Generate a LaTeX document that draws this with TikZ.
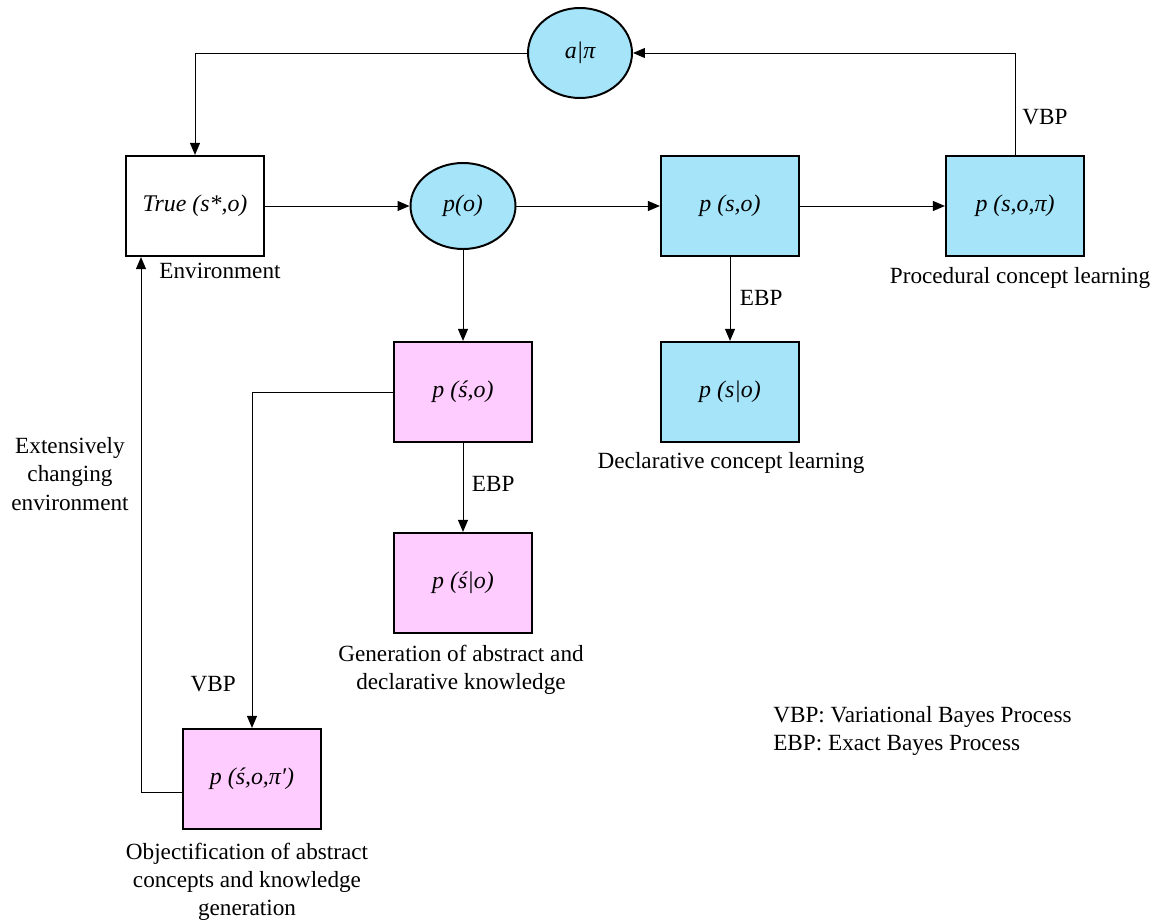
\documentclass[tikz,border=0pt]{standalone}
\usepackage{fontspec}
\setmainfont{Liberation Serif}
\usetikzlibrary{arrows.meta, shapes.geometric}
\definecolor{skyfill}{RGB}{166,228,250}
\definecolor{pinkfill}{RGB}{255,204,255}

\begin{document}
\begin{tikzpicture}[
		every node/.style={font=\fontsize{16.5}{20}\selectfont},
		box/.style={rectangle, draw, line width=1.6pt, minimum width=3.45cm, minimum height=2.5cm, inner sep=0pt, font=\fontsize{17}{20}\selectfont\itshape},
		blob/.style={ellipse, draw, line width=1.4pt, fill=skyfill, inner sep=0pt, font=\fontsize{17}{20}\selectfont\itshape},
		conn/.style={line width=0.7pt, -{Triangle[length=0.3cm, width=0.25cm]}},
		note/.style={align=center, inner sep=0pt}
	]
  \useasboundingbox (0cm, 0cm) rectangle (29cm, -23.075cm);
  \node (a_pi) [blob, minimum width=2.6cm, minimum height=2.25cm] at (14.5cm, -1.325cm) {a|π};
  \node (true_env) [box] at (4.875cm, -5.15cm) {True (s*,o)};
  \node (p_o) [blob, minimum width=2.625cm, minimum height=2.15cm] at (11.575cm, -5.15cm) {p(o)};
  \node (p_so) [box, fill=skyfill] at (18.25cm, -5.15cm) {p (s,o)};
  \node (p_sopi) [box, fill=skyfill] at (25.375cm, -5.15cm) {p (s,o,π)};
  \node (p_s_o) [box, fill=skyfill] at (18.25cm, -9.8cm) {p (s|o)};
  \node (p_s2o) [box, fill=pinkfill] at (11.575cm, -9.8cm) {p (ś,o)};
  \node (p_s2_o) [box, fill=pinkfill] at (11.575cm, -14.575cm) {p (ś|o)};
  \node (p_s2opi) [box, fill=pinkfill] at (6.3cm, -19.475cm) {p (ś,o,π′)};

  \node (env_label) [note] at (5.5cm, -6.775cm) {Environment};
  \node (change_label) [note] at (1.75cm, -11.85cm) {Extensively\\changing\\environment};
  \node (proc_label) [note] at (25.5cm, -6.95cm) {Procedural concept learning};
  \node (decl_label) [note] at (18.275cm, -11.575cm) {Declarative concept learning};
  \node (gen_label) [note] at (11.525cm, -16.75cm) {Generation of abstract and\\declarative knowledge};
  \node (obj_label) [note] at (6.175cm, -22.05cm) {Objectification of abstract\\concepts and knowledge\\generation};
  \node (vbp_top) [note] at (26.125cm, -2.925cm) {VBP};
  \node (ebp_right) [note] at (19.03cm, -7.45cm) {EBP};
  \node (ebp_left) [note] at (12.33cm, -12.1cm) {EBP};
  \node (vbp_left) [note] at (5.33cm, -17.1cm) {VBP};
  \node (legend) [note, align=left, anchor=west] at (19.325cm, -18.275cm) {VBP: Variational Bayes Process\\EBP: Exact Bayes Process};

  \draw [conn] (a_pi.west) -| (true_env.north);
  \draw [conn] (p_sopi.north) |- (a_pi.east);
  \draw [conn] (true_env.east) -- (p_o.west);
  \draw [conn] (p_o.east) -- (p_so.west);
  \draw [conn] (p_so.east) -- (p_sopi.west);
  \draw [conn] (p_o.south) -- (p_s2o.north);
  \draw [conn] (p_so.south) -- (p_s_o.north);
  \draw [conn] (p_s2o.south) -- (p_s2_o.north);
  \draw [conn] (p_s2o.west) -| (p_s2opi.north);
  \draw [conn] ([yshift=-0.325cm]p_s2opi.west) -| ([xshift=-1.35cm]true_env.south);
\end{tikzpicture}
\end{document}
